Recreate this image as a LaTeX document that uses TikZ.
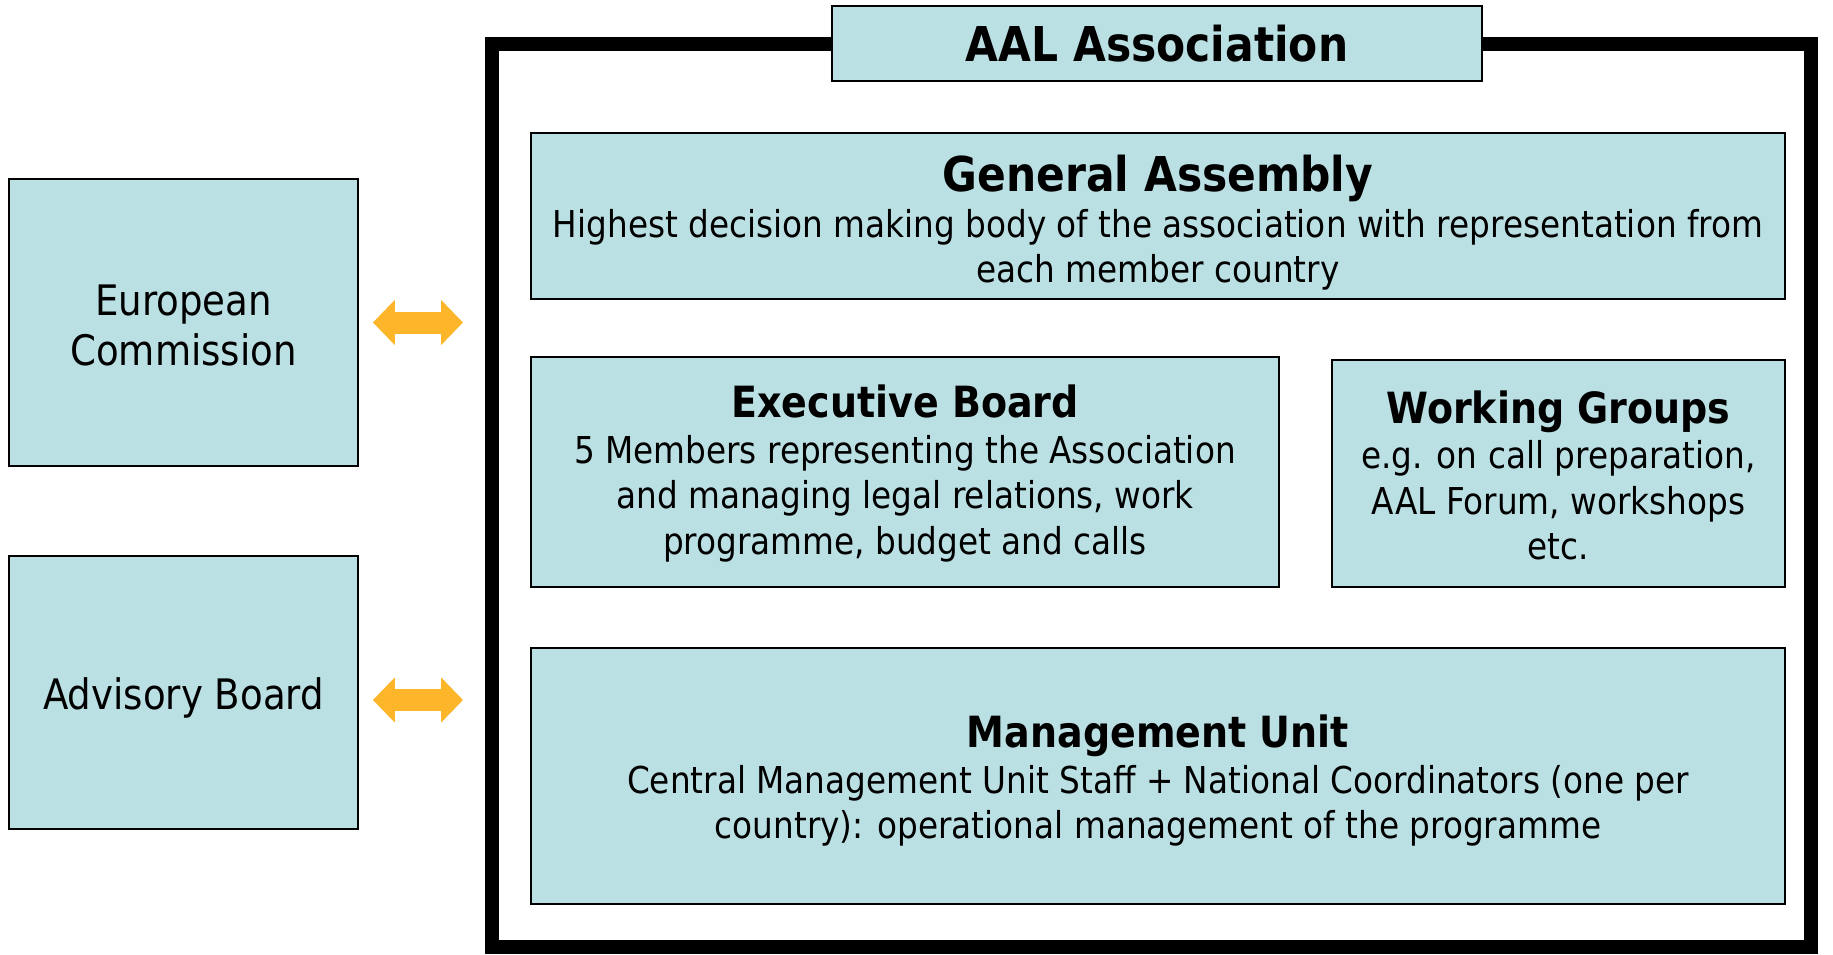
\documentclass[tikz,border=0pt]{standalone}
\usepackage{fontspec}
\setmainfont{DejaVu Sans}[FakeStretch=0.884]
\usetikzlibrary{arrows.meta}
\definecolor{boxfill}{HTML}{BBE0E3}
\definecolor{arrowfill}{HTML}{FDB52A}
\newcommand\mytitle{\fontsize{43}{52}\selectfont\bfseries}
\newcommand\mybigtitle{\fontsize{48}{54}\selectfont\bfseries}
\newcommand\mybody{\fontsize{37}{45.5}\selectfont}
\newcommand\mybig{\fontsize{42}{50}\selectfont}
\begin{document}
\begin{tikzpicture}[x=1pt,y=-1pt,
  box/.style={draw=black, line width=1.8pt, fill=boxfill, inner sep=0pt},
  txt/.style={inner sep=0pt, align=center, font=\mybody},
  bigarrow/.style={draw=arrowfill, line width=22pt, {Triangle[length=22pt,width=44pt]}-{Triangle[length=22pt,width=44pt]}}]
\useasboundingbox (0,0) rectangle (1833,955);
% outer frame
\node[draw=black, line width=14pt, minimum width=1319pt, minimum height=903pt, inner sep=0pt] (frame) at (1151.5,495.5) {};
% title
\node[box, minimum width=650pt, minimum height=75pt, font=\mybigtitle] (title) at (1157,43.5) {AAL Association};
% inner boxes
\node[box, minimum width=1254pt, minimum height=166pt] (ga) at (1158,216) {};
\node[txt] (gat) at ([yshift=-7pt]ga.center)
  {{\mybigtitle General Assembly}\\Highest decision making body of the association with representation from\\each member country};
\node[box, minimum width=748pt, minimum height=230pt] (eb) at (905,472) {};
\node[txt] (ebt) at ([yshift=-1.5pt]eb.center)
  {{\mytitle Executive Board}\\5 Members representing the Association\\and managing legal relations, work\\programme, budget and calls};
\node[box, minimum width=453pt, minimum height=227pt] (wg) at (1558.5,473.5) {};
\node[txt] (wgt) at ([yshift=-2pt]wg.center)
  {{\mytitle Working Groups}\\e.g. on call preparation,\\AAL Forum, workshops\\etc.};
\node[box, minimum width=1254pt, minimum height=256pt] (mu) at (1158,776) {};
\node[txt] (mut) at ([yshift=-5pt]mu.center)
  {{\mytitle Management Unit}\\Central Management Unit Staff + National Coordinators (one per\\country): operational management of the programme};
% left boxes
\node[box, minimum width=349pt, minimum height=287pt] (ec) at (183.5,322.5) {};
\node[txt, font=\mybig] (ect) at ([yshift=-2.5pt]ec.center) {European\\Commission};
\node[box, minimum width=349pt, minimum height=273pt] (ab) at (183.5,692.5) {};
\node[txt, font=\mybig] (abt) at ([yshift=-5pt]ab.center) {Advisory Board};
% arrows
\coordinate (fl) at ([xshift=-22pt]frame.west);
\coordinate (abarr) at ([yshift=-7.5pt]ab.east);
\draw[bigarrow] ([xshift=14pt]ec.east) -- (fl |- ec.east);
\draw[bigarrow] ([xshift=14pt]abarr) -- (fl |- abarr);
\end{tikzpicture}
\end{document}
